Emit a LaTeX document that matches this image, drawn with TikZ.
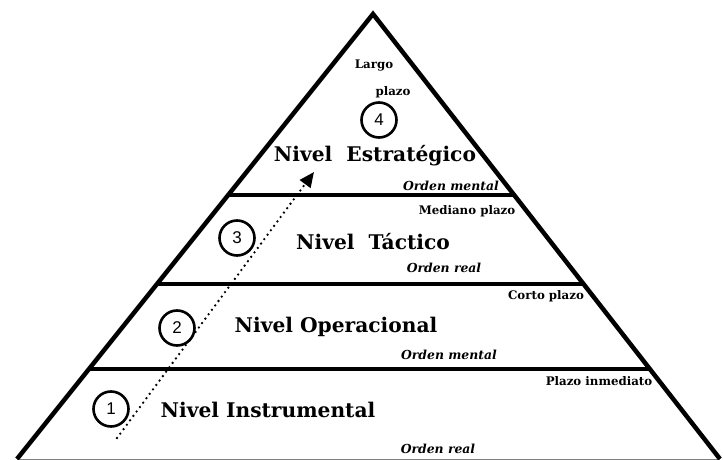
\documentclass[tikz,border=0pt]{standalone}
\usepackage{fontspec}
\setmainfont{DejaVu Serif}
\newfontfamily\numfont{Liberation Sans}
\usetikzlibrary{calc,arrows.meta}

\tikzset{
  nivel/.style={font=\bfseries\fontsize{20.2}{22}\selectfont},
  plazo/.style={font=\bfseries\fontsize{11.8}{13}\selectfont},
  orden/.style={font=\bfseries\itshape\fontsize{12.4}{14}\selectfont},
  numero/.style={draw, circle, line width=2.6pt, minimum size=35pt, inner sep=0pt,
    font=\numfont\fontsize{17}{19}\selectfont},
}

\begin{document}
\begin{tikzpicture}[x=1pt,y=-1pt]
  \useasboundingbox (0,0) rectangle (723,460);
  % the pyramid
  \coordinate (apex) at (373,14);
  \coordinate (bl) at (17,459);
  \coordinate (br) at (720,459);
  \draw[gray, line width=1pt] (bl) -- (br);
  \draw[line width=4.5pt, line join=miter] (bl) -- (apex) -- (br);
  \draw[line width=4pt] ($(apex)!0.407!(bl)$) -- ($(apex)!0.407!(br)$);
  \draw[line width=4pt] ($(apex)!0.606!(bl)$) -- ($(apex)!0.606!(br)$);
  \draw[line width=4pt] ($(apex)!0.797!(bl)$) -- ($(apex)!0.797!(br)$);

  % level 4
  \node[plazo] (largo) at (374,66) {Largo};
  \node[plazo] (plazo4) at (393,92) {plazo};
  \node[numero] (n4) at (379,120) {4};
  \node[nivel] (estrategico) at (375,156) {Nivel\ \ Estratégico};
  \node[orden] (mental4) at (451,186) {Orden mental};

  % level 3
  \node[plazo] (mediano) at (467,211) {Mediano plazo};
  \node[numero] (n3) at (237,238) {3};
  \node[nivel] (tactico) at (373,242) {Nivel\ \ Táctico};
  \node[orden] (real3) at (444,268) {Orden real};

  % level 2
  \node[plazo] (corto) at (546,296) {Corto plazo};
  \node[numero] (n2) at (177,328) {2};
  \node[nivel] (operacional) at (336,327) {Nivel Operacional};
  \node[orden] (mental2) at (449,355) {Orden mental};

  % level 1
  \node[plazo] (inmediato) at (599,381) {Plazo inmediato};
  \node[numero] (n1) at (111,409) {1};
  \node[nivel] (instrumental) at (268,410) {Nivel Instrumental};
  \node[orden] (real1) at (438,449) {Orden real};

  % dotted arrow
  \coordinate (ini) at (117,438);
  \coordinate (fin) at (314,172);
  \draw[line width=2.6pt, line cap=round, dash pattern=on 0pt off 5.5pt,
    -{Triangle[length=15pt,width=13pt]}] (ini) -- (fin);
\end{tikzpicture}
\end{document}
